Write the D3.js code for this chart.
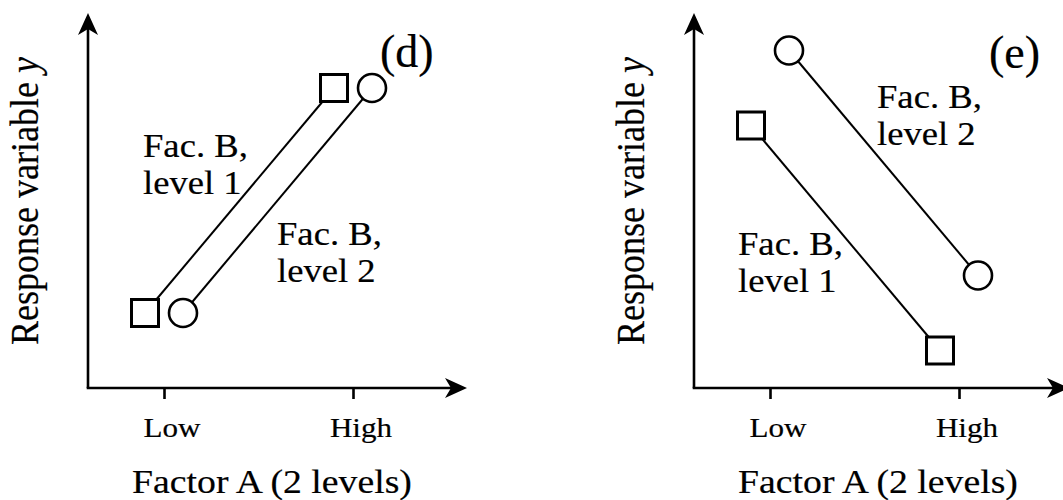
<!DOCTYPE html>
<html>
<head>
<meta charset="utf-8">
<script src="https://cdn.jsdelivr.net/npm/d3@7"></script>
<style>
  html, body { margin: 0; padding: 0; background: #fff; }
  svg { display: block; }
  text { font-family: "Liberation Serif", "Times New Roman", serif; fill: #000; stroke: #000; stroke-width: 0.2px; }
</style>
</head>
<body>
<svg id="chart" width="1063" height="500"></svg>
<script>
// ---- data ----
const categories = ["Low", "High"];
const seriesNames = ["level 1", "level 2"];
const panelD_level1 = [20, 80];
const panelD_level2 = [20, 80];
const panelE_level1 = [70, 10];
const panelE_level2 = [90, 30];
const panelTags = ["(d)", "(e)"];
const xTitle = "Factor A (2 levels)";
const yTitle = "Response variable ";

const svg = d3.select("#chart");
const SX = 1.11; // horizontal glyph stretch seen in reference

const panels = [
  { ox: 88, tag: panelTags[0], s1: panelD_level1, s2: panelD_level2, tipLen: 379,
    tagPos: [380, 67],
    lab1: [143, 157], lab2: [277, 245] },
  { ox: 694, tag: panelTags[1], s1: panelE_level1, s2: panelE_level2, tipLen: 375,
    tagPos: [989, 68],
    lab1: [738, 255], lab2: [877, 108] }
];

const oy = 388;
const y = d3.scaleLinear().domain([0, 100]).range([oy, 13]);
const dodge = d3.scalePoint().domain(seriesNames).range([-19, 19]);

function arrowHead(g, x, yy, angle) {
  g.append("path")
    .attr("d", "M0,0 L-22,-10 L-16,0 L-22,10 Z")
    .attr("transform", `translate(${x},${yy}) rotate(${angle})`)
    .attr("fill", "#000");
}

function stretchedText(g, x, yy, str, size, anchor, sx) {
  const t = g.append("text")
    .attr("transform", `translate(${x},${yy}) scale(${sx === undefined ? SX : sx},1)`)
    .attr("font-size", size)
    .attr("text-anchor", anchor || "start")
    .text(str);
  return t;
}

panels.forEach(p => {
  const g = svg.append("g");
  const x = d3.scalePoint().domain(categories).range([p.ox + 76, p.ox + 265]);

  // axes
  g.append("line").attr("x1", p.ox).attr("y1", oy).attr("x2", p.ox).attr("y2", 20)
    .attr("stroke", "#000").attr("stroke-width", 2.6);
  arrowHead(g, p.ox, 13, -90);
  g.append("line").attr("x1", p.ox - 1.3).attr("y1", oy).attr("x2", p.ox + p.tipLen - 6).attr("y2", oy)
    .attr("stroke", "#000").attr("stroke-width", 2.6);
  arrowHead(g, p.ox + p.tipLen, oy, 0);

  // ticks
  const axis = d3.axisBottom(x).tickSize(11).tickPadding(0).tickFormat("");
  const ag = g.append("g").attr("transform", `translate(0,${oy})`).call(axis);
  ag.select(".domain").remove();
  ag.selectAll(".tick line").attr("stroke", "#000").attr("stroke-width", 2.6);

  // tick labels
  categories.forEach(c => {
    stretchedText(g, x(c) + 8, 437, c, 28, "middle");
  });

  // lines and markers
  const series = [
    { name: seriesNames[0], vals: p.s1, shape: "square" },
    { name: seriesNames[1], vals: p.s2, shape: "circle" }
  ];
  const line = d3.line().x(d => d[0]).y(d => d[1]);
  series.forEach(s => {
    const pts = categories.map((c, i) => [x(c) + dodge(s.name), y(s.vals[i])]);
    g.append("path").attr("d", line(pts)).attr("fill", "none")
      .attr("stroke", "#000").attr("stroke-width", 2);
    pts.forEach(pt => {
      if (s.shape === "square") {
        g.append("rect").attr("x", pt[0] - 13.5).attr("y", pt[1] - 13.5)
          .attr("width", 27).attr("height", 27)
          .attr("fill", "#fff").attr("stroke", "#000").attr("stroke-width", 3);
      } else {
        g.append("circle").attr("cx", pt[0]).attr("cy", pt[1]).attr("r", 14)
          .attr("fill", "#fff").attr("stroke", "#000").attr("stroke-width", 2.6);
      }
    });
  });

  // series labels
  const labs = [
    { pos: p.lab1, name: seriesNames[0] },
    { pos: p.lab2, name: seriesNames[1] }
  ];
  labs.forEach(l => {
    stretchedText(g, l.pos[0], l.pos[1], "Fac. B,", 33, "start");
    stretchedText(g, l.pos[0], l.pos[1] + 37, l.name, 33, "start");
  });

  // panel tag
  stretchedText(g, p.tagPos[0], p.tagPos[1], p.tag, 46, "start", 1.0);

  // axis titles
  stretchedText(g, p.ox + 184, 493, xTitle, 34, "middle");
  const yt = g.append("text")
    .attr("transform", `translate(${p.ox - 50},201) scale(${SX},1) rotate(-90)`)
    .attr("font-size", 36)
    .attr("text-anchor", "middle");
  yt.append("tspan").text(yTitle);
  yt.append("tspan").attr("font-style", "italic").text("y");
});
</script>
</body>
</html>
